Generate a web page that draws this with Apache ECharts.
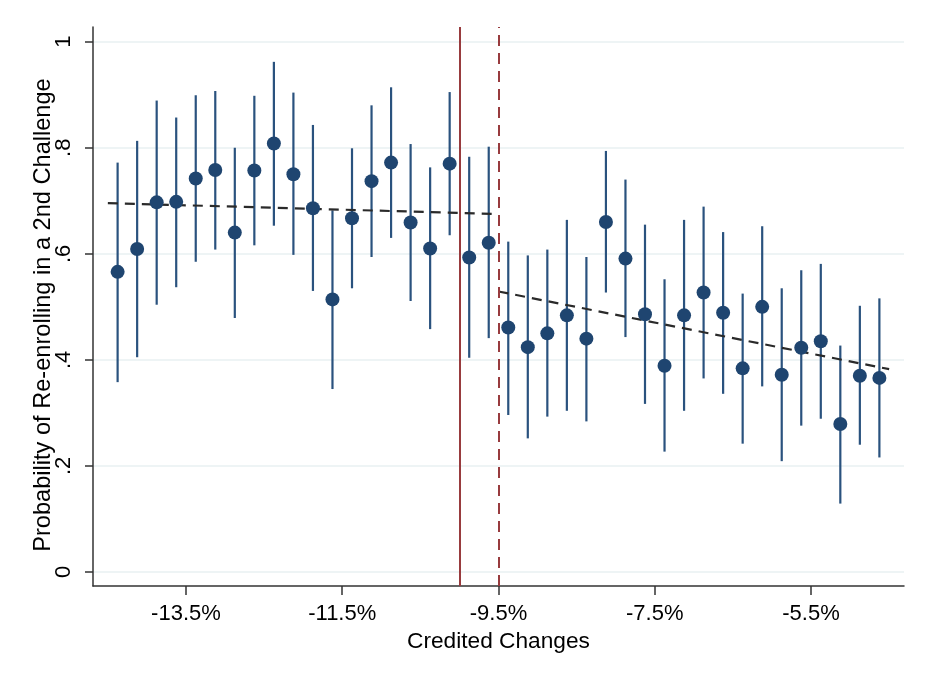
<!DOCTYPE html>
<html>
<head>
<meta charset="utf-8">
<script src="https://cdn.jsdelivr.net/npm/echarts@6/dist/echarts.min.js"></script>
<style>
  html, body { margin: 0; padding: 0; background: #ffffff; }
  #chart { width: 927px; height: 677px; }
</style>
</head>
<body>
<div id="chart"></div>
<script>
// Bin centers of credited changes (percent)
const binCenters = [
  -14.375, -14.125, -13.875, -13.625, -13.375, -13.125, -12.875, -12.625, -12.375, -12.125,
  -11.875, -11.625, -11.375, -11.125, -10.875, -10.625, -10.375, -10.125, -9.875, -9.625,
  -9.375, -9.125, -8.875, -8.625, -8.375, -8.125, -7.875, -7.625, -7.375, -7.125,
  -6.875, -6.625, -6.375, -6.125, -5.875, -5.625, -5.375, -5.125, -4.875, -4.625
];

// Share re-enrolling in each bin
const meanValues = [
  0.566, 0.609, 0.697, 0.698, 0.742, 0.758, 0.640, 0.757, 0.808, 0.750,
  0.686, 0.514, 0.667, 0.737, 0.772, 0.659, 0.610, 0.770, 0.593, 0.621,
  0.461, 0.424, 0.450, 0.484, 0.440, 0.660, 0.591, 0.486, 0.389, 0.484,
  0.527, 0.489, 0.384, 0.500, 0.372, 0.423, 0.435, 0.279, 0.370, 0.366
];

// Confidence interval bounds
const upperValues = [
  0.772, 0.813, 0.889, 0.857, 0.899, 0.907, 0.800, 0.898, 0.962, 0.904,
  0.843, 0.682, 0.799, 0.880, 0.914, 0.807, 0.763, 0.905, 0.783, 0.802,
  0.623, 0.597, 0.608, 0.664, 0.594, 0.794, 0.740, 0.655, 0.552, 0.664,
  0.689, 0.641, 0.525, 0.652, 0.535, 0.569, 0.581, 0.427, 0.502, 0.516
];
const lowerValues = [
  0.358, 0.405, 0.504, 0.537, 0.585, 0.608, 0.479, 0.616, 0.653, 0.598,
  0.530, 0.345, 0.535, 0.594, 0.630, 0.511, 0.458, 0.635, 0.404, 0.441,
  0.296, 0.252, 0.293, 0.304, 0.284, 0.527, 0.443, 0.317, 0.227, 0.304,
  0.365, 0.336, 0.242, 0.350, 0.209, 0.276, 0.289, 0.129, 0.240, 0.216
];

// Linear fits on each side of the cutoff
const fitLeft = [[-14.5, 0.6956], [-9.5, 0.675]];
const fitRight = [[-9.5, 0.529], [-4.5, 0.3825]];

// Reference lines
const solidCutoff = -10;
const dashedCutoff = -9.5;

// Axis ticks
const xTicks = [-13.5, -11.5, -9.5, -7.5, -5.5];
const yTicks = [0, 0.2, 0.4, 0.6, 0.8, 1];

const xTitle = 'Credited Changes';
const yTitle = 'Probability of Re-enrolling in a 2nd Challenge';

const navy = '#1f4570';
const barColor = '#2a527e';
const red = '#983b3e';
const font = '"Liberation Sans", Arial, Helvetica, sans-serif';

const points = binCenters.map((x, i) => [x, meanValues[i]]);
const bars = binCenters.map((x, i) => [x, lowerValues[i], upperValues[i]]);

const chart = echarts.init(document.getElementById('chart'), null, { renderer: 'canvas' });

chart.setOption({
  backgroundColor: '#ffffff',
  animation: false,
  grid: { left: 93, right: 23, top: 27, bottom: 91, containLabel: false },
  graphic: [
    {
      // vertical axis title, placed a little below the axis midpoint
      type: 'text',
      x: 43,
      y: 315,
      rotation: Math.PI / 2,
      silent: true,
      style: {
        text: yTitle,
        fontFamily: font,
        fontSize: 23.6,
        fill: '#000',
        align: 'center',
        verticalAlign: 'middle'
      }
    }
  ],
  xAxis: {
    type: 'value',
    min: -14.69,
    max: -4.31,
    name: xTitle,
    nameLocation: 'middle',
    nameGap: 43,
    nameTextStyle: { fontFamily: font, fontSize: 22.7, color: '#000' },
    axisLine: { show: true, onZero: false, lineStyle: { color: '#333', width: 1.5 } },
    axisTick: { show: true, length: 9, customValues: xTicks, lineStyle: { color: '#333', width: 1.5 } },
    axisLabel: {
      customValues: xTicks,
      margin: 17,
      fontFamily: font, fontSize: 22, color: '#000',
      formatter: v => v.toFixed(1) + '%'
    },
    splitLine: { show: false }
  },
  yAxis: {
    type: 'value',
    min: -0.0264,
    max: 1.0277,
    axisLine: { show: true, onZero: false, lineStyle: { color: '#333', width: 1.5 } },
    axisTick: { show: true, length: 8, customValues: yTicks, lineStyle: { color: '#333', width: 1.5 } },
    axisLabel: {
      customValues: yTicks,
      rotate: 90,
      margin: 18,
      fontFamily: font, fontSize: 22, color: '#000',
      formatter: v => (v === 0 ? '0' : v === 1 ? '1' : String(v).replace(/^0/, ''))
    },
    splitLine: { show: true, lineStyle: { color: '#e8f0f2', width: 1.5 } }
  },
  series: [
    {
      name: 'cutoffs',
      type: 'line',
      data: [],
      silent: true,
      z: 1,
      markLine: {
        silent: true,
        symbol: ['none', 'none'],
        label: { show: false },
        animation: false,
        data: [
          { xAxis: solidCutoff, lineStyle: { color: red, width: 2, type: 'solid' } },
          { xAxis: dashedCutoff, lineStyle: { color: red, width: 2, type: [11, 7] } }
        ]
      }
    },
    {
      name: 'ci',
      type: 'custom',
      z: 2,
      silent: true,
      data: bars,
      encode: { x: 0, y: [1, 2] },
      renderItem: (params, api) => {
        const x = api.value(0);
        const lo = api.coord([x, api.value(1)]);
        const hi = api.coord([x, api.value(2)]);
        return {
          type: 'line',
          shape: { x1: lo[0], y1: lo[1], x2: hi[0], y2: hi[1] },
          style: { stroke: barColor, lineWidth: 2.2 }
        };
      }
    },
    {
      name: 'fitLeft',
      type: 'line',
      z: 3,
      data: fitLeft,
      symbol: 'none',
      silent: true,
      lineStyle: { color: '#2a2a2a', width: 2.2, type: [10, 7] }
    },
    {
      name: 'fitRight',
      type: 'line',
      z: 3,
      data: fitRight,
      symbol: 'none',
      silent: true,
      lineStyle: { color: '#2a2a2a', width: 2.2, type: [10, 7] }
    },
    {
      name: 'mean',
      type: 'scatter',
      z: 4,
      data: points,
      symbol: 'circle',
      symbolSize: 14,
      silent: true,
      itemStyle: { color: navy, opacity: 1 }
    }
  ]
});
</script>
</body>
</html>
